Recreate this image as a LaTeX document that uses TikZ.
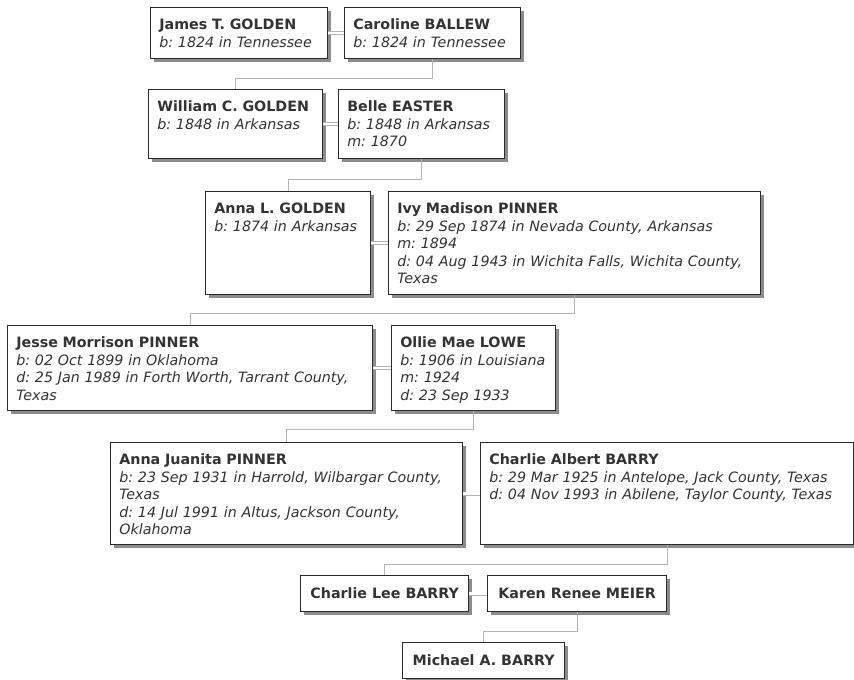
\documentclass[tikz,border=0pt]{standalone}
\usepackage{fontspec}
\setmainfont{DejaVu Sans}
\usetikzlibrary{shadows}
\definecolor{boxline}{HTML}{2B2B2B}
\definecolor{inkgray}{HTML}{333333}
\definecolor{shadowgray}{HTML}{8C8C8C}
\definecolor{linkgray}{HTML}{B4B4B4}
\frenchspacing
\begin{document}
\begin{tikzpicture}[x=0.75pt, y=-0.75pt,
  person/.style={draw=boxline, line width=1pt, fill=white, anchor=north west, align=left,
    inner xsep=6.5pt, inner ysep=4.5pt, text height=12pt, text=inkgray,
    font=\fontsize{10.7}{13.1}\selectfont,
    drop shadow={shadow xshift=2.2pt, shadow yshift=-2.2pt, fill=shadowgray, opacity=1}},
  single/.style={draw=boxline, line width=1pt, fill=white, anchor=north west, align=center,
    inner sep=0pt, minimum height=27pt, text=inkgray,
    font=\fontsize{10.7}{13.1}\selectfont\bfseries,
    drop shadow={shadow xshift=2.2pt, shadow yshift=-2.2pt, fill=shadowgray, opacity=1}},
  link/.style={draw=linkgray, line width=0.8pt},
  spouse/.style={draw=linkgray, line width=0.7pt, double=white, double distance=1.8pt}]
\useasboundingbox (0,0) rectangle (854,680);

\node[person, text width=119.75pt, text depth=17.25pt] (james) at (150,7)
  {\textbf{James T. GOLDEN}\\\textit{b: 1824 in Tennessee}};
\node[person, text width=119pt, text depth=17.25pt] (caroline) at (344,7)
  {\textbf{Caroline BALLEW}\\\textit{b: 1824 in Tennessee}};

\node[person, text width=117.5pt, text depth=30.75pt] (william) at (148,89)
  {\textbf{William C. GOLDEN}\\\textit{b: 1848 in Arkansas}};
\node[person, text width=111.5pt, text depth=30.75pt] (belle) at (338,89)
  {\textbf{Belle EASTER}\\\textit{b: 1848 in Arkansas}\\\textit{m: 1870}};

\node[person, text width=110.75pt, text depth=56.25pt] (annal) at (205,191)
  {\textbf{Anna L. GOLDEN}\\\textit{b: 1874 in Arkansas}};
\node[person, text width=266pt, text depth=56.25pt] (ivy) at (388,191)
  {\textbf{Ivy Madison PINNER}\\\textit{b: 29 Sep 1874 in Nevada County, Arkansas}\\\textit{m: 1894}\\
   \textit{d: 04 Aug 1943 in Wichita Falls, Wichita County,}\\\textit{Texas}};

\node[person, text width=260.75pt, text depth=42.75pt] (jesse) at (7,325)
  {\textbf{Jesse Morrison PINNER}\\\textit{b: 02 Oct 1899 in Oklahoma}\\
   \textit{d: 25 Jan 1989 in Forth Worth, Tarrant County,}\\\textit{Texas}};
\node[person, text width=110pt, text depth=42.75pt] (ollie) at (391,325)
  {\textbf{Ollie Mae LOWE}\\\textit{b: 1906 in Louisiana}\\\textit{m: 1924}\\\textit{d: 23 Sep 1933}};

\node[person, text width=251pt, text depth=55.5pt] (annaj) at (110,442)
  {\textbf{Anna Juanita PINNER}\\\textit{b: 23 Sep 1931 in Harrold, Wilbargar County,}\\\textit{Texas}\\
   \textit{d: 14 Jul 1991 in Altus, Jackson County,}\\\textit{Oklahoma}};
\node[person, text width=266.75pt, text depth=55.5pt] (charliea) at (480,442)
  {\textbf{Charlie Albert BARRY}\\\textit{b: 29 Mar 1925 in Antelope, Jack County, Texas}\\
   \textit{d: 04 Nov 1993 in Abilene, Taylor County, Texas}};

\node[single, minimum width=126pt] (charliel) at (300,575) {Charlie Lee BARRY};
\node[single, minimum width=134.25pt] (karen) at (487,575) {Karen Renee MEIER};
\node[single, minimum width=121.5pt] (michael) at (402,642) {Michael A. BARRY};

\draw[spouse] (james.east) -- (caroline.west |- james.east);
\draw[spouse] (william.east) -- (belle.west |- william.east);
\draw[spouse] (annal.east) -- (ivy.west |- annal.east);
\draw[spouse] (jesse.east) -- (ollie.west |- jesse.east);
\draw[spouse] (annaj.east) -- (charliea.west |- annaj.east);
\draw[spouse] (charliel.east) -- (karen.west |- charliel.east);

\draw[link] (caroline.south) -- ++(0,19) -| (william.north);
\draw[link] (belle.south) -- ++(0,20) -| (annal.north);
\draw[link] (ivy.south) -- ++(0,18) -| (jesse.north);
\draw[link] (ollie.south) -- ++(0,18) -| (annaj.north);
\draw[link] (charliea.south) -- ++(0,19) -| (charliel.north);
\draw[link] (karen.south) -- ++(0,19) -| (michael.north);
\end{tikzpicture}
\end{document}
